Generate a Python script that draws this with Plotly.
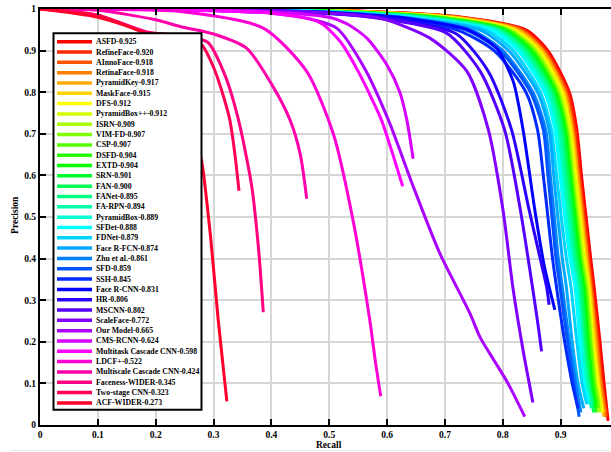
import colorsys
import plotly.graph_objects as go

# ---------------- data ----------------
METHODS = ["ASFD", "RefineFace", "AInnoFace", "RetinaFace", "PyramidKey", "MaskFace", "DFS",
           "PyramidBox++", "ISRN", "VIM-FD", "CSP", "DSFD", "EXTD", "SRN", "FAN", "FANet",
           "FA-RPN", "PyramidBox", "SFDet", "FDNet", "Face R-FCN", "Zhu et al.", "SFD", "SSH",
           "Face R-CNN", "HR", "MSCNN", "ScaleFace", "Our Model", "CMS-RCNN",
           "Multitask Cascade CNN", "LDCF+", "Multiscale Cascade CNN", "Faceness-WIDER",
           "Two-stage CNN", "ACF-WIDER"]
AP = [0.925, 0.920, 0.918, 0.918, 0.917, 0.915, 0.912, 0.912, 0.909, 0.907, 0.907, 0.904,
      0.904, 0.901, 0.900, 0.895, 0.894, 0.889, 0.888, 0.879, 0.874, 0.861, 0.859, 0.845,
      0.831, 0.806, 0.802, 0.772, 0.665, 0.624, 0.598, 0.522, 0.424, 0.345, 0.323, 0.273]

# shared precision levels for the top cluster of curves (last point is per-method)
CLUSTER_P = [1.0, 0.999, 0.995, 0.98, 0.95, 0.9, 0.8, 0.71, 0.6, 0.5, 0.4, 0.33, 0.2, 0.1]

r_asfd = [0, 0.25, 0.55, 0.73, 0.84, 0.878, 0.915, 0.928, 0.936, 0.944, 0.952, 0.958, 0.968, 0.975, 0.982]
r_refineface = [0, 0.25, 0.54, 0.725, 0.835, 0.874, 0.912, 0.925, 0.933, 0.941, 0.949, 0.955, 0.965, 0.972, 0.980]
r_ainnoface = [0, 0.25, 0.54, 0.72, 0.83, 0.871, 0.909, 0.922, 0.931, 0.939, 0.947, 0.953, 0.963, 0.970, 0.978]
r_retinaface = [0, 0.25, 0.53, 0.72, 0.83, 0.870, 0.908, 0.921, 0.930, 0.938, 0.946, 0.952, 0.962, 0.969, 0.977]
r_pyramidkey = [0, 0.25, 0.53, 0.715, 0.825, 0.868, 0.906, 0.920, 0.929, 0.937, 0.945, 0.951, 0.960, 0.967, 0.975]
r_maskface = [0, 0.25, 0.52, 0.71, 0.822, 0.865, 0.904, 0.918, 0.927, 0.935, 0.943, 0.950, 0.958, 0.966, 0.973]
r_dfs = [0, 0.25, 0.52, 0.705, 0.818, 0.862, 0.902, 0.916, 0.925, 0.933, 0.941, 0.948, 0.956, 0.964, 0.972]
r_pyramidboxpp = [0, 0.25, 0.51, 0.70, 0.815, 0.860, 0.900, 0.915, 0.924, 0.932, 0.940, 0.947, 0.955, 0.962, 0.970]
r_isrn = [0, 0.25, 0.51, 0.695, 0.812, 0.857, 0.897, 0.912, 0.921, 0.929, 0.937, 0.945, 0.953, 0.960, 0.968]
r_vimfd = [0, 0.25, 0.50, 0.69, 0.810, 0.855, 0.895, 0.911, 0.920, 0.928, 0.936, 0.944, 0.952, 0.959, 0.966]
r_csp = [0, 0.25, 0.50, 0.69, 0.808, 0.853, 0.894, 0.910, 0.919, 0.927, 0.935, 0.943, 0.951, 0.958, 0.965]
r_dsfd = [0, 0.25, 0.49, 0.685, 0.805, 0.850, 0.892, 0.908, 0.917, 0.925, 0.933, 0.940, 0.948, 0.955, 0.962]
r_extd = [0, 0.25, 0.49, 0.68, 0.802, 0.848, 0.890, 0.907, 0.916, 0.924, 0.932, 0.940, 0.947, 0.954, 0.960]
r_srn = [0, 0.25, 0.48, 0.675, 0.800, 0.845, 0.888, 0.905, 0.914, 0.922, 0.930, 0.938, 0.945, 0.952, 0.958]
r_fan = [0, 0.25, 0.48, 0.67, 0.797, 0.842, 0.886, 0.903, 0.912, 0.920, 0.928, 0.936, 0.943, 0.950, 0.957]
r_fanet = [0, 0.25, 0.47, 0.665, 0.793, 0.838, 0.883, 0.900, 0.909, 0.917, 0.925, 0.933, 0.940, 0.948, 0.955]
r_farpn = [0, 0.25, 0.47, 0.66, 0.790, 0.835, 0.880, 0.897, 0.906, 0.914, 0.922, 0.930, 0.938, 0.946, 0.953]
r_pyramidbox = [0, 0.25, 0.46, 0.65, 0.785, 0.830, 0.876, 0.893, 0.902, 0.910, 0.919, 0.928, 0.936, 0.943, 0.950]
r_sfdet = [0, 0.25, 0.46, 0.645, 0.780, 0.826, 0.872, 0.890, 0.899, 0.907, 0.916, 0.925, 0.933, 0.940, 0.948]
r_fdnet = [0, 0.25, 0.45, 0.635, 0.770, 0.818, 0.865, 0.884, 0.893, 0.901, 0.910, 0.918, 0.928, 0.937, 0.945]
r_facerfcn = [0, 0.25, 0.44, 0.625, 0.760, 0.810, 0.860, 0.880, 0.888, 0.895, 0.903, 0.910, 0.920, 0.930, 0.940]
r_zhu = [0, 0.25, 0.43, 0.61, 0.745, 0.800, 0.852, 0.874, 0.882, 0.889, 0.896, 0.903, 0.915, 0.926, 0.935]
r_sfd = [0, 0.25, 0.42, 0.60, 0.735, 0.795, 0.848, 0.870, 0.878, 0.885, 0.892, 0.899, 0.912, 0.923, 0.932]
r_ssh = [0, 0.25, 0.40, 0.58, 0.720, 0.785, 0.840, 0.860, 0.870, 0.878, 0.886, 0.893, 0.907, 0.920, 0.930]
CLUSTER_END_P = [0.01, 0.02, 0.02, 0.03, 0.02, 0.03, 0.03, 0.04, 0.03, 0.05, 0.04, 0.03,
                 0.05, 0.04, 0.03, 0.05, 0.04, 0.06, 0.05, 0.05, 0.04, 0.03, 0.02, 0.04]

r_facercnn = [0, 0.3, 0.5, 0.65, 0.74, 0.789, 0.818, 0.835, 0.855, 0.872, 0.884, 0.890]
p_facercnn = [1, 0.998, 0.992, 0.975, 0.95, 0.906, 0.826, 0.71, 0.52, 0.38, 0.31, 0.277]
r_hr = [0, 0.3, 0.5, 0.62, 0.72, 0.775, 0.815, 0.845, 0.868, 0.876, 0.880]
p_hr = [1, 0.998, 0.99, 0.975, 0.94, 0.85, 0.71, 0.52, 0.38, 0.33, 0.289]
r_mscnn = [0, 0.3, 0.5, 0.6, 0.703, 0.761, 0.803, 0.83, 0.852, 0.862, 0.867]
p_mscnn = [1, 0.998, 0.99, 0.975, 0.942, 0.85, 0.71, 0.52, 0.325, 0.23, 0.177]
r_scaleface = [0, 0.3, 0.5, 0.588, 0.674, 0.738, 0.775, 0.8, 0.818, 0.835, 0.852]
p_scaleface = [1, 0.998, 0.99, 0.978, 0.93, 0.85, 0.71, 0.52, 0.325, 0.18, 0.054]
r_ourmodel = [0, 0.2, 0.4, 0.47, 0.513, 0.56, 0.602, 0.645, 0.691, 0.743, 0.761, 0.785, 0.809, 0.838]
p_ourmodel = [1, 0.999, 0.99, 0.975, 0.954, 0.86, 0.734, 0.574, 0.413, 0.269, 0.21, 0.155, 0.10, 0.02]
r_cmsrcnn = [0, 0.2, 0.4, 0.5, 0.53, 0.565, 0.6, 0.622, 0.634, 0.645]
p_cmsrcnn = [1, 0.999, 0.993, 0.98, 0.965, 0.93, 0.865, 0.80, 0.734, 0.64]
r_multitask = [0, 0.2, 0.4, 0.47, 0.49, 0.52, 0.55, 0.575, 0.59, 0.61, 0.627]
p_multitask = [1, 0.999, 0.99, 0.975, 0.962, 0.92, 0.85, 0.78, 0.734, 0.65, 0.574]
r_ldcf = [0, 0.1, 0.242, 0.386, 0.461, 0.507, 0.54, 0.57, 0.58, 0.589]
p_ldcf = [1, 0.999, 0.994, 0.954, 0.85, 0.70, 0.50, 0.253, 0.15, 0.069]
r_multiscale = [0, 0.1, 0.2, 0.242, 0.3, 0.357, 0.4, 0.432, 0.45, 0.461]
p_multiscale = [1, 0.997, 0.974, 0.958, 0.94, 0.906, 0.82, 0.734, 0.65, 0.544]
r_faceness = [0, 0.1, 0.185, 0.25, 0.29, 0.32, 0.343, 0.366, 0.378, 0.386]
p_faceness = [1, 0.985, 0.945, 0.935, 0.92, 0.84, 0.734, 0.574, 0.42, 0.271]
r_twostage = [0, 0.1, 0.185, 0.25, 0.279, 0.3, 0.315, 0.328, 0.337, 0.344]
p_twostage = [1, 0.985, 0.942, 0.932, 0.915, 0.86, 0.8, 0.734, 0.65, 0.563]
r_acf = [0, 0.1, 0.182, 0.22, 0.25, 0.268, 0.28, 0.295, 0.308, 0.323]
p_acf = [1, 0.98, 0.94, 0.88, 0.78, 0.7, 0.63, 0.45, 0.253, 0.057]

X_TICKS = [0, 0.1, 0.2, 0.3, 0.4, 0.5, 0.6, 0.7, 0.8, 0.9, 1]
X_TICK_LABELS = ["0", "0.1", "0.2", "0.3", "0.4", "0.5", "0.6", "0.7", "0.8", "0.9", "1"]
Y_TICKS = [0, 0.1, 0.2, 0.3, 0.4, 0.5, 0.6, 0.7, 0.8, 0.9, 1]
Y_TICK_LABELS = ["0", "0.1", "0.2", "0.3", "0.4", "0.5", "0.6", "0.7", "0.8", "0.9", "1"]

# ---------------- assemble ----------------
cluster_r = [r_asfd, r_refineface, r_ainnoface, r_retinaface, r_pyramidkey, r_maskface, r_dfs,
             r_pyramidboxpp, r_isrn, r_vimfd, r_csp, r_dsfd, r_extd, r_srn, r_fan, r_fanet,
             r_farpn, r_pyramidbox, r_sfdet, r_fdnet, r_facerfcn, r_zhu, r_sfd, r_ssh]
curves = [(r, CLUSTER_P + [pe]) for r, pe in zip(cluster_r, CLUSTER_END_P)]
curves += [(r_facercnn, p_facercnn), (r_hr, p_hr), (r_mscnn, p_mscnn),
           (r_scaleface, p_scaleface), (r_ourmodel, p_ourmodel), (r_cmsrcnn, p_cmsrcnn),
           (r_multitask, p_multitask), (r_ldcf, p_ldcf), (r_multiscale, p_multiscale),
           (r_faceness, p_faceness), (r_twostage, p_twostage), (r_acf, p_acf)]

n = len(METHODS)
colors = []
for i in range(n):
    rr, gg, bb = colorsys.hsv_to_rgb(i / n, 1.0, 1.0)
    colors.append("rgb(%d,%d,%d)" % (round(rr * 255), round(gg * 255), round(bb * 255)))

FONT = "Liberation Serif"
fig = go.Figure()
for i, (r, p) in enumerate(curves):
    fig.add_trace(go.Scatter(x=r, y=p, mode="lines", name=METHODS[i],
                             line=dict(color=colors[i], width=3, shape="spline", smoothing=0.7),
                             hoverinfo="skip"))

# ---- legend drawn by hand (Plotly legend rows cannot be this dense) ----
XS = 578.5   # px per unit recall
YS = 416.0   # px per unit precision
def dx(px):
    return (px - 40.0) / XS
def dy(py):
    return (425.3 - py) / YS

shapes = [dict(type="rect", xref="x", yref="y", x0=dx(53.5), x1=dx(201.5), y0=dy(410), y1=dy(33.5),
               fillcolor="white", line=dict(color="black", width=2), layer="above")]
annotations = []
for i in range(n):
    py = 42.0 + i * 10.32
    shapes.append(dict(type="line", xref="x", yref="y", x0=dx(57), x1=dx(92), y0=dy(py), y1=dy(py),
                       line=dict(color=colors[i], width=3.5), layer="above"))
    annotations.append(dict(xref="x", yref="y", x=dx(94), y=dy(py), xanchor="left", yanchor="middle",
                            text="<b>%s-%.3f</b>" % (METHODS[i], AP[i]), showarrow=False,
                            font=dict(family=FONT, size=7.8, color="black")))

# faint separator line visible under the axis title
shapes.append(dict(type="line", xref="paper", yref="paper", x0=-0.05, x1=1.0, y0=-0.061, y1=-0.061,
                   line=dict(color="#e6e6e6", width=1), layer="above"))

annotations.append(dict(xref="x", yref="paper", x=0.5, y=-0.049, text="<b>Recall</b>", showarrow=False,
                        xanchor="center", yanchor="middle", font=dict(family=FONT, size=9.5, color="black")))
annotations.append(dict(xref="paper", yref="paper", x=-0.0438, y=0.505, text="<b>Precision</b>",
                        showarrow=False, textangle=-90, xanchor="center", yanchor="middle",
                        font=dict(family=FONT, size=9.5, color="black")))

axis_common = dict(showline=True, linecolor="black", linewidth=2, ticks="inside", ticklen=6,
                   tickwidth=2, tickcolor="black", showgrid=True, gridcolor="#d6d6d6", gridwidth=1.5,
                   zeroline=False, automargin=False, tickfont=dict(family=FONT, size=9.5, color="black"))

fig.update_layout(
    width=611, height=452,
    margin=dict(l=40, r=0, t=9, b=27, autoexpand=False),
    plot_bgcolor="white", paper_bgcolor="white",
    showlegend=False,
    shapes=shapes, annotations=annotations,
    xaxis=dict(range=[0, 571 / XS], tickvals=X_TICKS, ticktext=["<b>%s</b>" % t for t in X_TICK_LABELS],
               mirror="ticks", **axis_common),
    yaxis=dict(range=[0, 1], tickvals=Y_TICKS, ticktext=["<b>%s</b>" % t for t in Y_TICK_LABELS],
               mirror=False, **axis_common),
)

fig.write_html("out.html", config={"displayModeBar": False},
               post_script="document.body.style.margin='0';document.body.style.padding='0';"
                           "document.body.style.overflow='hidden';")
